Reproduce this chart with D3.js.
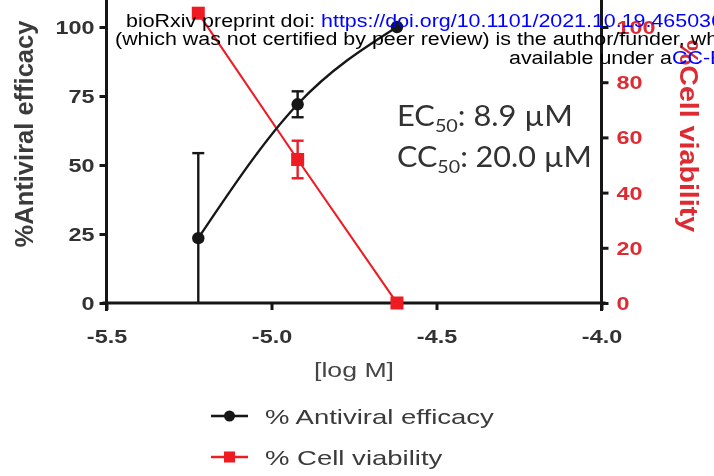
<!DOCTYPE html>
<html>
<head>
<meta charset="utf-8">
<script src="https://cdn.jsdelivr.net/npm/d3@7"></script>
<style>
  body { margin: 0; background: #fff; }
  svg { display: block; }
</style>
</head>
<body>
<svg id="chart" width="714" height="476"></svg>
<script>
// Concentrations tested (µM) and the two measured responses
const concentrationsUM = [6, 12, 24];
const antiviralEfficacy = [23.5, 72, 100];
const antiviralError = [30.8, 4.7, 0];
const cellViability = [105, 52, 0];
const cellViabilityError = [0, 6.8, 0];

// Axis ticks
const xTicks = [-5.5, -5.0, -4.5, -4.0];
const leftTicks = [0, 25, 50, 75, 100];
const rightTicks = [0, 20, 40, 60, 80, 100];

// Text content
const xTitle = "[log M]";
const leftTitle = "%Antiviral efficacy";
const rightTitle = "%Cell viability";
const legendLabels = ["% Antiviral efficacy", "% Cell viability"];
const ec50Label = ["EC", "50", ": 8.9 \u00b5M"];
const cc50Label = ["CC", "50", ": 20.0 \u00b5M"];
const headerLines = [
  [["bioRxiv preprint doi: ", false], ["https://doi.org/10.1101/2021.10.19.465036", true], ["; this version posted October 20, 2021. The copyright holder for this preprint", false]],
  [["(which was not certified by peer review) is the author/funder, who has granted bioRxiv a license to display the preprint in perpetuity. It is made", false]],
  [["available under a", false], ["CC-BY-NC-ND 4.0 International license", true], [".", false]]
];

const BLACK = "#161616";
const RED = "#ee1c24";
const RED_TEXT = "#de2b31";
const GREY_TEXT = "#333333";
const SX = 1.3; // horizontal stretch of the chart lettering

const svg = d3.select("#chart");

const defs = svg.append("defs");
defs.append("filter").attr("id", "soft")
  .append("feGaussianBlur").attr("stdDeviation", 0.6);

const chart = svg.append("g").attr("filter", "url(#soft)");

// Scales
const x = d3.scaleLinear().domain([-5.5, -4.0]).range([106.5, 601.5]);
const yL = d3.scaleLinear().domain([0, 100]).range([303, 27]);
const yR = d3.scaleLinear().domain([0, 100]).range([303, 27]);
// Axis lines run to the top edge of the frame
const yLAxisScale = yL.copy().domain([0, yL.invert(0)]).range([303, 0]);
const yRAxisScale = yR.copy().domain([0, yR.invert(0)]).range([303, 0]);

const efficacyPts = concentrationsUM.map((c, i) => ({
  lx: Math.log10(c * 1e-6), v: antiviralEfficacy[i], e: antiviralError[i]
}));
const viabilityPts = concentrationsUM.map((c, i) => ({
  lx: Math.log10(c * 1e-6), v: cellViability[i], e: cellViabilityError[i]
}));

// Axes
function styleAxis(g) {
  g.select(".domain").attr("stroke", BLACK).attr("stroke-width", 3);
  g.selectAll(".tick line").attr("stroke", BLACK).attr("stroke-width", 3);
  g.selectAll(".tick text")
    .attr("font-family", "Liberation Sans, Arial, sans-serif")
    .attr("font-weight", "bold")
    .attr("font-size", 18)
    .attr("x", 0).attr("y", 0).attr("dy", null);
}

const xAxisG = chart.append("g")
  .attr("transform", `translate(0,${yL(0)})`)
  .call(d3.axisBottom(x).tickValues(xTicks).tickFormat(d => d.toFixed(1)).tickSize(7).tickSizeOuter(0));
styleAxis(xAxisG);
xAxisG.selectAll(".tick text")
  .attr("fill", GREY_TEXT)
  .attr("text-anchor", "middle")
  .attr("transform", `translate(0,39.5) scale(${SX},1)`);
xAxisG.select(".domain").attr("d", `M${x(-5.5) - 4},0H${x(-4.0) + 4}`);

const yLAxisG = chart.append("g")
  .attr("transform", `translate(${x(-5.5)},0)`)
  .call(d3.axisLeft(yLAxisScale).tickValues(leftTicks).tickSize(7).tickSizeOuter(0));
styleAxis(yLAxisG);
yLAxisG.selectAll(".tick text")
  .attr("fill", GREY_TEXT)
  .attr("text-anchor", "end")
  .attr("transform", `translate(-12,6.5) scale(${SX},1)`);
yLAxisG.select(".domain").attr("d", `M0,${yL(0) + 8}V0`);

const yRAxisG = chart.append("g")
  .attr("transform", `translate(${x(-4.0)},0)`)
  .call(d3.axisRight(yRAxisScale).tickValues(rightTicks).tickSize(7).tickSizeOuter(0));
styleAxis(yRAxisG);
yRAxisG.selectAll(".tick text")
  .attr("fill", RED_TEXT)
  .attr("text-anchor", "start")
  .attr("transform", `translate(15,6.5) scale(${SX},1)`);
yRAxisG.select(".domain").attr("d", `M0,${yR(0) + 8}V0`);

// Axis titles
chart.append("text")
  .attr("transform", `translate(${x(-4.75)},377) scale(1.27,1)`)
  .attr("text-anchor", "middle")
  .attr("font-family", "Liberation Sans, Arial, sans-serif")
  .attr("font-size", 21)
  .attr("fill", "#444")
  .text(xTitle);

chart.append("text")
  .attr("transform", "translate(33,134) rotate(-90)")
  .attr("text-anchor", "middle")
  .attr("font-family", "Liberation Sans, Arial, sans-serif")
  .attr("font-weight", "bold")
  .attr("font-size", 25.5)
  .attr("fill", "#3a3a3a")
  .text(leftTitle);

chart.append("text")
  .attr("transform", "translate(680,136) rotate(90) scale(1.1,1)")
  .attr("text-anchor", "middle")
  .attr("font-family", "Liberation Sans, Arial, sans-serif")
  .attr("font-weight", "bold")
  .attr("font-size", 26)
  .attr("fill", RED_TEXT)
  .text(rightTitle);

// Curves through the measured points
const curve = (ys) => d3.line().x(d => x(d.lx)).y(d => ys(d.v)).curve(d3.curveMonotoneX);

chart.append("path").datum(viabilityPts)
  .attr("d", curve(yR))
  .attr("fill", "none").attr("stroke", RED).attr("stroke-width", 2.1);

chart.append("path").datum(efficacyPts)
  .attr("d", curve(yL))
  .attr("fill", "none").attr("stroke", BLACK).attr("stroke-width", 2.4);

// Error bars
function errorBars(pts, ys, color) {
  const g = chart.append("g").attr("stroke", color).attr("stroke-width", 2.4).attr("fill", "none");
  pts.filter(d => d.e > 0).forEach(d => {
    const cx = x(d.lx);
    const lo = Math.max(0, d.v - d.e), hi = d.v + d.e;
    g.append("line").attr("x1", cx).attr("x2", cx).attr("y1", ys(lo)).attr("y2", ys(hi));
    g.append("line").attr("x1", cx - 6).attr("x2", cx + 6).attr("y1", ys(hi)).attr("y2", ys(hi));
    if (lo > 0) g.append("line").attr("x1", cx - 6).attr("x2", cx + 6).attr("y1", ys(lo)).attr("y2", ys(lo));
  });
}
errorBars(viabilityPts, yR, RED);
errorBars(efficacyPts, yL, BLACK);

// Markers
chart.append("g").selectAll("rect").data(viabilityPts).join("rect")
  .attr("x", d => x(d.lx) - 6.5).attr("y", d => yR(d.v) - 6.5)
  .attr("width", 13).attr("height", 13).attr("fill", RED);

chart.append("g").selectAll("circle").data(efficacyPts).join("circle")
  .attr("cx", d => x(d.lx)).attr("cy", d => yL(d.v)).attr("r", 6.2).attr("fill", BLACK);

// EC50 / CC50 annotation
function annotation(parts, baseline, width) {
  const t = chart.append("text")
    .attr("font-family", "Lato, 'Open Sans', sans-serif")
    .attr("font-size", 28)
    .attr("fill", "#303030");
  t.append("tspan").text(parts[0]);
  t.append("tspan").attr("font-size", 18).attr("dy", 6).text(parts[1]);
  t.append("tspan").attr("dy", -6).text(parts[2]);
  const w = t.node().getComputedTextLength();
  t.attr("transform", `translate(397,${baseline}) scale(${width / w},1)`);
}
annotation(ec50Label, 126, 176);
annotation(cc50Label, 167, 195);

// Legend
const legend = chart.append("g");
const legendRows = [
  { label: legendLabels[0], color: BLACK, shape: "circle", y: 416 },
  { label: legendLabels[1], color: RED, shape: "rect", y: 457 }
];
legendRows.forEach(r => {
  legend.append("line").attr("x1", 211).attr("x2", 248).attr("y1", r.y).attr("y2", r.y)
    .attr("stroke", r.color).attr("stroke-width", 2.4);
  if (r.shape === "circle") {
    legend.append("circle").attr("cx", 229.5).attr("cy", r.y).attr("r", 5.5).attr("fill", r.color);
  } else {
    legend.append("rect").attr("x", 224).attr("y", r.y - 5.5).attr("width", 11).attr("height", 11).attr("fill", r.color);
  }
  legend.append("text")
    .attr("transform", `translate(265,${r.y + 7.5}) scale(1.31,1)`)
    .attr("font-family", "Liberation Sans, Arial, sans-serif")
    .attr("font-size", 21)
    .attr("fill", "#3a3a3a")
    .text(r.label);
});

// Preprint notice printed across the top of the page
const header = svg.append("g")
  .attr("font-family", "Liberation Sans, Arial, sans-serif")
  .attr("font-size", 18);
const headerPos = [[126, 26.5], [115, 45], [509, 64]];
headerLines.forEach((segs, i) => {
  const t = header.append("text")
    .attr("transform", `translate(${headerPos[i][0]},${headerPos[i][1]}) scale(1.19,1)`);
  segs.forEach(([s, link]) => t.append("tspan").attr("fill", link ? "#0000ff" : "#000").text(s));
});
</script>
</body>
</html>
